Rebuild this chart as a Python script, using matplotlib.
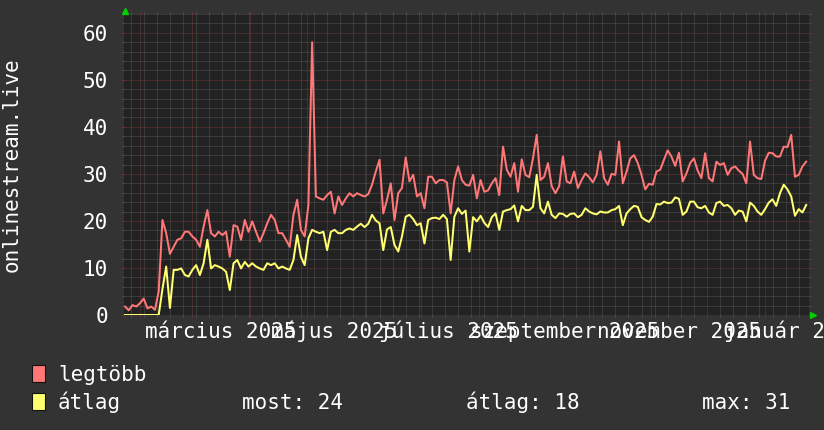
import matplotlib
matplotlib.use("Agg")
import matplotlib.pyplot as plt
import matplotlib.dates as mdates
from matplotlib.ticker import MultipleLocator, NullFormatter, FixedLocator
from matplotlib.transforms import blended_transform_factory
from matplotlib.patches import Rectangle
import pandas as pd

plt.rcParams['font.family'] = ['DejaVu Sans Mono']

# ---- data (2-day samples starting 2025-01-24) ----
start_date = '2025-01-24'
step = '2D'
legtobb = [
    1.8, 1.0, 2.1, 1.8, 2.5, 3.5, 1.4, 1.8, 1.1, 5.0,
    20.2, 17.4, 13.0, 14.5, 16.0, 16.3, 17.7, 17.7, 16.7, 16.0,
    14.5, 18.8, 22.3, 17.4, 16.7, 17.7, 17.0, 17.7, 12.4, 19.1,
    18.8, 16.0, 20.2, 17.7, 19.9, 17.7, 15.6, 17.4, 19.5, 21.3,
    20.2, 17.4, 17.4, 16.0, 14.5, 21.3, 24.5, 18.1, 16.7, 23.4,
    58.0, 25.2, 24.8, 24.5, 25.5, 26.2, 21.6, 25.2, 23.4, 24.8,
    25.9, 25.2, 25.9, 25.5, 25.2, 25.7, 27.7, 30.5, 33.0, 21.6,
    24.5, 28.0, 20.2, 25.9, 27.0, 33.5, 28.4, 29.8, 25.2, 25.9,
    22.7, 29.4, 29.4, 28.0, 28.7, 28.7, 28.2, 21.6, 28.7, 31.6,
    28.7, 27.7, 27.5, 29.8, 24.8, 28.7, 26.2, 26.5, 28.0, 29.1,
    25.5, 35.8, 30.9, 29.4, 32.3, 26.2, 33.1, 29.8, 29.3, 33.3,
    38.3, 28.7, 29.4, 32.3, 27.4, 25.9, 27.4, 33.7, 28.4, 28.0,
    30.5, 27.0, 28.7, 30.1, 29.3, 28.2, 29.8, 34.8, 29.1, 27.7,
    30.0, 29.8, 36.9, 28.0, 30.5, 33.3, 34.0, 32.3, 29.8, 26.7,
    27.9, 27.7, 30.5, 30.9, 33.0, 35.0, 33.7, 31.7, 34.5, 28.4,
    30.1, 32.3, 33.3, 30.7, 29.1, 34.4, 29.1, 28.4, 32.6, 31.9,
    32.3, 29.8, 31.2, 31.6, 30.7, 30.0, 28.0, 36.9, 29.8, 29.1,
    28.9, 32.8, 34.5, 34.4, 33.7, 33.7, 35.8, 35.7, 38.3, 29.4,
    29.8, 31.6, 32.6,
]
atlag = [
    0.0, 0.0, 0.0, 0.0, 0.0, 0.0, 0.0, 0.0, 0.0, 0.0,
    5.5, 10.3, 1.5, 9.6, 9.6, 9.9, 8.5, 8.2, 9.6, 10.6,
    8.5, 11.0, 16.0, 9.9, 10.6, 10.3, 9.9, 9.2, 5.3, 11.0,
    11.7, 9.9, 11.3, 10.3, 11.0, 10.3, 9.9, 9.6, 11.0, 10.6,
    11.0, 9.9, 10.3, 9.9, 9.6, 11.7, 17.0, 12.4, 10.6, 16.3,
    18.1, 17.7, 17.4, 17.7, 13.8, 17.7, 18.1, 17.4, 17.4, 18.1,
    18.4, 18.1, 18.8, 19.4, 18.7, 19.4, 21.3, 20.1, 19.5, 13.8,
    18.2, 18.7, 14.9, 13.5, 16.7, 20.9, 21.3, 20.4, 19.1, 19.5,
    15.2, 20.2, 20.6, 20.7, 20.4, 21.3, 20.4, 11.7, 20.9, 22.7,
    21.5, 22.2, 13.5, 20.8, 19.9, 21.1, 19.6, 18.7, 20.8, 21.6,
    18.1, 22.0, 22.3, 22.5, 23.3, 19.9, 23.2, 22.3, 22.3, 23.0,
    29.8, 22.7, 21.6, 24.1, 21.3, 20.6, 21.6, 21.5, 20.9, 21.5,
    21.6, 20.8, 21.3, 22.7, 22.0, 21.6, 21.4, 22.0, 21.8, 21.8,
    22.3, 22.5, 23.2, 19.1, 21.6, 22.5, 23.2, 23.0, 20.8, 20.2,
    19.8, 20.9, 23.6, 23.5, 24.1, 23.8, 23.9, 25.0, 24.7, 21.3,
    22.0, 24.1, 24.1, 22.9, 22.7, 23.2, 21.8, 21.3, 23.8, 24.1,
    23.2, 23.4, 22.7, 21.3, 22.2, 22.0, 19.9, 23.9, 23.2, 22.0,
    21.3, 22.5, 23.9, 24.6, 23.2, 25.9, 27.7, 26.7, 25.2, 21.1,
    22.5, 21.8, 23.4,
]
y_ticks = [0, 10, 20, 30, 40, 50, 60]
y_tick_labels = ['0', '10', '20', '30', '40', '50', '60']
x_label_dates = ['2025-03-16', '2025-05-16', '2025-07-16', '2025-09-16', '2025-11-16', '2026-01-16']
x_label_texts = ['március 2025', 'május 2025', 'július 2025', 'szeptember 2025', 'november 2025', 'január 2026']
y_title = 'onlinestream.live'
legend_names = ['legtöbb', 'átlag']
stats = ['most: 24', 'átlag: 18', 'max: 31']

# ---- style ----
BG = '#333333'
PLOT_BG = '#222222'
RED = '#ff7777'
YEL = '#ffff70'
MINOR = '#525252'
MAJOR = '#723636'
FS = 15

W, H = 824, 430
L, R, T, B = 124, 809, 14, 315
fig = plt.figure(figsize=(W / 100, H / 100), dpi=100, facecolor=BG)
ax = fig.add_axes([L / W, 1 - B / H, (R - L) / W, (B - T) / H], facecolor=PLOT_BG)

dates = pd.date_range(start_date, periods=len(legtobb), freq=step)
ax.plot(dates, legtobb, color=RED, lw=1.45, zorder=3)
ax.plot(dates, atlag, color=YEL, lw=1.45, zorder=4)

ax.set_xlim(pd.Timestamp('2025-01-23 11:00'), pd.Timestamp('2026-01-24 12:00'))
ax.set_ylim(0, 64)

ax.xaxis.set_major_locator(mdates.MonthLocator())
ax.xaxis.set_minor_locator(mdates.WeekdayLocator(byweekday=mdates.MO))
ax.xaxis.set_major_formatter(NullFormatter())
ax.xaxis.set_minor_formatter(NullFormatter())
ax.yaxis.set_major_locator(FixedLocator(y_ticks))
ax.set_yticklabels(y_tick_labels)
ax.yaxis.set_minor_locator(MultipleLocator(2))

ax.set_axisbelow(True)
ax.grid(which='minor', color=MINOR, linestyle=(0, (1, 1)), linewidth=0.72)
ax.grid(which='major', color=MAJOR, linestyle=(0, (1, 1)), linewidth=0.72)

ax.tick_params(axis='both', which='both', direction='out', length=1.5, width=0.72)
ax.tick_params(axis='x', which='both', top=True, bottom=True)
ax.tick_params(axis='y', which='both', left=True, right=True)
ax.tick_params(which='major', color=MAJOR)
ax.tick_params(which='minor', color=MINOR)
ax.tick_params(axis='y', which='major', labelsize=FS, labelcolor='white', pad=10)

for s in ax.spines.values():
    s.set_visible(False)

# x labels
trans = blended_transform_factory(ax.transData, ax.transAxes)
for d, t in zip(x_label_dates, x_label_texts):
    ax.text(pd.Timestamp(d), (B - 338) / (B - T), t, transform=trans, ha='center',
            va='baseline', color='white', fontsize=FS, clip_on=False)

# arrows
ax.plot([0.0015], [1 + 3.5 / (B - T)], marker='^', color='#00d000', markersize=5,
        transform=ax.transAxes, clip_on=False, zorder=6)
ax.plot([1 + 4 / (R - L)], [0.0015], marker='>', color='#00d000', markersize=5,
        transform=ax.transAxes, clip_on=False, zorder=6)

# y title
fig.text(12 / W, 1 - 164.5 / H, y_title, rotation=90, ha='center', va='center',
         color='white', fontsize=FS)

# legend
for k, (name, col) in enumerate(zip(legend_names, [RED, YEL])):
    top = 365 + 28 * k
    fig.patches.append(Rectangle((32 / W, 1 - (top + 17) / H), 13 / W, 17 / H,
                                 transform=fig.transFigure, facecolor=col,
                                 edgecolor='#111111', lw=0.8))
    fig.text(58 / W, 1 - (381 + 28 * k) / H, name, ha='left', va='baseline',
             color='white', fontsize=FS)
for x0, s in zip([242, 466, 702], stats):
    fig.text(x0 / W, 1 - 409 / H, s, ha='left', va='baseline', color='white', fontsize=FS)

fig.savefig('out.png', dpi=100, facecolor=BG)
